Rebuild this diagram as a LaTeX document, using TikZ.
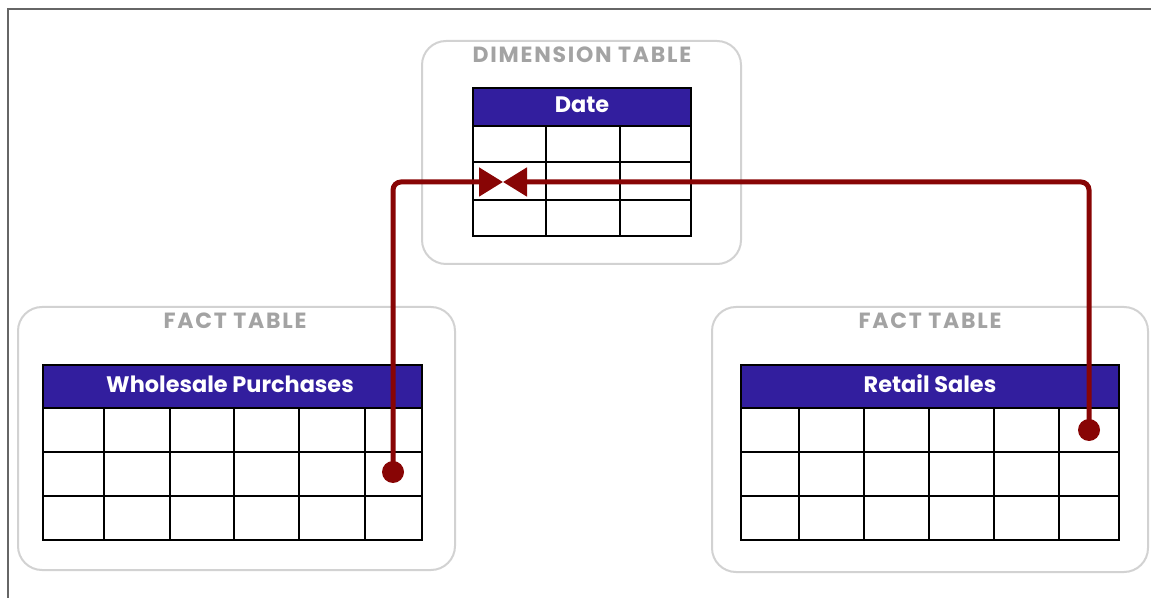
\documentclass[tikz,border=0pt]{standalone}
\usepackage{fontspec}
\setmainfont{Poppins}
\usetikzlibrary{positioning, arrows.meta, calc}
\definecolor{headblue}{HTML}{321E9E}
\definecolor{linkred}{HTML}{880505}
\definecolor{boxgray}{HTML}{D2D2D2}
\definecolor{titlegray}{HTML}{A3A3A3}
\tikzset{
    group/.style={draw=boxgray, line width=1pt, rounded corners=12pt},
    grouptitle/.style={anchor=base, text=titlegray, font=\fontsize{11}{12}\selectfont\bfseries\addfontfeatures{LetterSpace=8}},
    headbar/.style={fill=headblue, draw=black, line width=1pt},
    headtext/.style={anchor=base, text=white, font=\fontsize{11.2}{12}\selectfont\bfseries},
    cell/.style={draw=black, line width=1pt},
    link/.style={draw=linkred, line width=2.5pt, rounded corners=4pt},
    keydot/.style={circle, fill=linkred, inner sep=0pt, minimum size=11pt},
}

\begin{document}
\begin{tikzpicture}[x=0.5pt, y=-0.5pt]
    \useasboundingbox (0,0) rectangle (1151,598);
    \draw[gray!80!black, line width=1pt] (8,598) -- (8,9) -- (1151,9);

    % dimension table
    \draw[group] (422,41) rectangle (741,264);
    \node[grouptitle] (dimtitle) at (582,63) {DIMENSION TABLE};
    \draw[headbar] (473,88) rectangle (691,126);
    \node[headtext] (date) at (582,113) {Date};
    \draw[cell] (473,126) rectangle (691,236);
    \draw[cell] (473,162) -- (691,162);
    \draw[cell] (473,200) -- (691,200);
    \draw[cell] (546,126) -- (546,236);
    \draw[cell] (620,126) -- (620,236);

    % fact table, left
    \draw[group] (18,307) rectangle (455,570);
    \node[grouptitle] (facttitleL) at (235,329) {FACT TABLE};
    \draw[headbar] (43,365) rectangle (422,408);
    \node[headtext] (wholesale) at (230,393) {Wholesale Purchases};
    \draw[cell] (43,408) rectangle (422,540);
    \draw[cell] (43,452) -- (422,452);
    \draw[cell] (43,496) -- (422,496);
    \foreach \x in {104,170,234,299,365}
        \draw[cell] (\x,408) -- (\x,540);

    % fact table, right
    \draw[group] (712,307) rectangle (1148,572);
    \node[grouptitle] (facttitleR) at (930,329) {FACT TABLE};
    \draw[headbar] (741,365) rectangle (1119,408);
    \node[headtext] (retail) at (930,393) {Retail Sales};
    \draw[cell] (741,408) rectangle (1119,540);
    \draw[cell] (741,452) -- (1119,452);
    \draw[cell] (741,496) -- (1119,496);
    \foreach \x in {799,864,929,994,1059}
        \draw[cell] (\x,408) -- (\x,540);

    % keys pointing at the date row
    \node[keydot] (wpkey) at (393,472) {};
    \node[keydot] (rskey) at (1089,430) {};
    \coordinate (datekey) at (503,182);
    \draw[link, -{Triangle[length=12pt, width=14pt]}] (wpkey.center) |- (datekey);
    \draw[link, -{Triangle[length=12pt, width=14pt]}] (rskey.center) |- (datekey);
\end{tikzpicture}
\end{document}
